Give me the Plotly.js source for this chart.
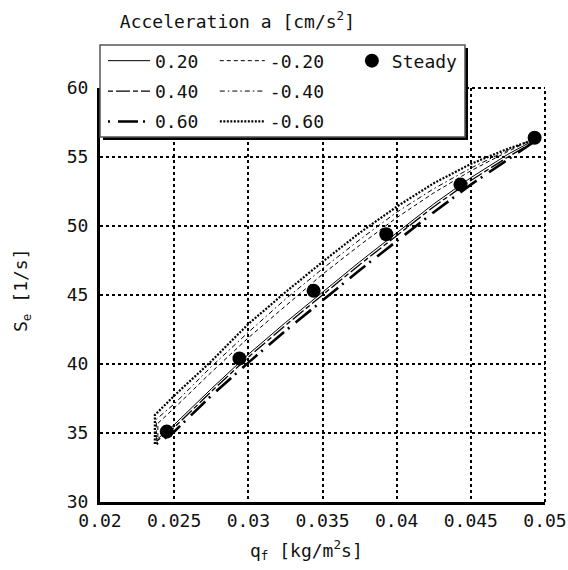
<!DOCTYPE html>
<html>
<head>
<meta charset="utf-8">
<script src="https://cdn.plot.ly/plotly-3.0.1.min.js"></script>
<style>html,body{margin:0;padding:0;background:#fff;}#chart{width:568px;height:570px;}</style>
</head>
<body>
<div id="chart"></div>
<script>
// ---- data ----
const qfPos   = [0.0238, 0.025, 0.0275, 0.03, 0.0325, 0.035, 0.0375, 0.04, 0.0425, 0.045, 0.0475, 0.0494];
const seP020  = [34.5, 35.6, 38.2, 40.7, 43.0, 45.2, 47.4, 49.5, 51.6, 53.5, 55.2, 56.3];
const seP040  = [34.4, 35.4, 38.0, 40.5, 42.8, 45.0, 47.2, 49.3, 51.4, 53.3, 55.0, 56.2];
const seP060  = [34.2, 35.1, 37.7, 40.1, 42.4, 44.6, 46.8, 48.9, 51.0, 53.0, 54.8, 56.2];

const qfM020  = [0.0239, 0.0239, 0.025, 0.0275, 0.03, 0.0325, 0.035, 0.0375, 0.04, 0.0425, 0.045, 0.0475, 0.0494];
const seM020  = [34.7, 35.7, 36.8, 39.4, 41.9, 44.2, 46.5, 48.6, 50.6, 52.4, 54.0, 55.4, 56.4];
const qfM040  = [0.0238, 0.0238, 0.025, 0.0275, 0.03, 0.0325, 0.035, 0.0375, 0.04, 0.0425, 0.045, 0.0475, 0.0494];
const seM040  = [34.5, 36.0, 37.1, 39.8, 42.3, 44.7, 46.9, 49.0, 51.0, 52.7, 54.2, 55.5, 56.4];
const qfM060  = [0.0237, 0.0237, 0.025, 0.0275, 0.03, 0.0325, 0.035, 0.0375, 0.04, 0.0425, 0.045, 0.0475, 0.0494];
const seM060  = [34.2, 36.3, 37.7, 40.2, 42.9, 45.2, 47.4, 49.5, 51.4, 53.1, 54.5, 55.6, 56.3];

const qfSteady = [0.0245, 0.0294, 0.0344, 0.0393, 0.0443, 0.0493];
const seSteady = [35.1, 40.4, 45.3, 49.4, 53.0, 56.4];

const FONT = '"DejaVu Sans Mono", monospace';

const traces = [
  {x: qfPos, y: seP020, name: '0.20', legend: 'legend', legendgroup: 'a',
   mode: 'lines', line: {color: '#000', width: 1}},
  {x: qfPos, y: seP040, name: '0.40', legend: 'legend', legendgroup: 'b',
   mode: 'lines', line: {color: '#000', width: 1.3, dash: '5px,3px,14px,3px'}},
  {x: qfPos, y: seP060, name: '0.60', legend: 'legend', legendgroup: 'c',
   mode: 'lines', line: {color: '#000', width: 2.6, dash: '2px,8px,20px,5px'}},
  {x: qfM020, y: seM020, name: '-0.20', legend: 'legend2', legendgroup: 'd',
   mode: 'lines', line: {color: '#000', width: 1, dash: '4px,3px'}},
  {x: qfM040, y: seM040, name: '-0.40', legend: 'legend2', legendgroup: 'e',
   mode: 'lines', line: {color: '#000', width: 1, dash: '5px,3px,1.5px,3px'}},
  {x: qfM060, y: seM060, name: '-0.60', legend: 'legend2', legendgroup: 'f',
   mode: 'lines', line: {color: '#000', width: 2.2, dash: '2px,1.5px'}},
  {x: qfSteady, y: seSteady, name: 'Steady', legend: 'legend3', legendgroup: 'g',
   mode: 'markers', marker: {color: '#000', size: 14, symbol: 'circle'}}
];

const legendBase = {
  font: {family: FONT, size: 18, color: '#111'},
  bgcolor: 'rgba(0,0,0,0)', borderwidth: 0,
  xanchor: 'left', yanchor: 'top', tracegroupgap: 4,
  itemclick: false, itemdoubleclick: false
};

const layout = {
  width: 568, height: 570,
  margin: {l: 100, r: 23, t: 88, b: 68},
  paper_bgcolor: '#fff', plot_bgcolor: '#fff',
  font: {family: FONT, size: 18, color: '#111'},
  title: {text: 'Acceleration a [cm/s<sup>2</sup>]', font: {family: FONT, size: 18, color: '#111'},
          xref: 'container', yref: 'container', x: 0.211, xanchor: 'left', y: 0.962, yanchor: 'middle'},
  xaxis: {range: [0.02, 0.05], dtick: 0.005, tick0: 0.02, showgrid: true,
          gridcolor: '#000', gridwidth: 2, griddash: 'dot',
          showline: true, linecolor: '#000', linewidth: 3, mirror: false,
          ticks: '', zeroline: false, tickfont: {family: FONT, size: 18, color: '#111'}},
  yaxis: {range: [30, 60], dtick: 5, tick0: 30, showgrid: true,
          gridcolor: '#000', gridwidth: 2, griddash: 'dot',
          showline: true, linecolor: '#000', linewidth: 3, mirror: false,
          ticks: '', ticklabelstandoff: 5, zeroline: false, tickfont: {family: FONT, size: 18, color: '#111'}},
  showlegend: true,
  legend:  Object.assign({}, legendBase, {x: 0.0067, y: 1.11, itemwidth: 42}),
  legend2: Object.assign({}, legendBase, {x: 0.258, y: 1.11, itemwidth: 45}),
  legend3: Object.assign({}, legendBase, {x: 0.566, y: 1.11}),
  shapes: [
    {type: 'line', xref: 'paper', yref: 'paper', x0: 0, x1: 1, y0: 1, y1: 1, layer: 'above',
     line: {color: '#000', width: 2, dash: 'dot'}},
    {type: 'line', xref: 'paper', yref: 'paper', x0: 1, x1: 1, y0: 0, y1: 1, layer: 'above',
     line: {color: '#000', width: 2, dash: 'dot'}},
    {type: 'rect', xref: 'paper', yref: 'paper', x0: 0.0067, x1: 0.827, y0: 0.8744, y1: 1.0966,
     layer: 'above', fillcolor: '#000', line: {width: 0}},
    {type: 'rect', xref: 'paper', yref: 'paper', x0: 0.0, x1: 0.8202, y0: 0.8816, y1: 1.1039,
     layer: 'above', fillcolor: '#fff', line: {color: '#555', width: 1.5}}
  ],
  annotations: [
    {text: 'q<sub>f</sub> [kg/m<sup>2</sup>s]', xref: 'paper', yref: 'paper', x: 0.465, y: -0.116,
     xanchor: 'center', yanchor: 'middle', showarrow: false, font: {family: FONT, size: 18, color: '#111'}},
    {text: 'S<sub>e</sub> [1/s]', xref: 'paper', yref: 'paper', x: -0.175, y: 0.51, textangle: -90,
     xanchor: 'center', yanchor: 'middle', showarrow: false, font: {family: FONT, size: 18, color: '#111'}}
  ]
};

Plotly.newPlot('chart', traces, layout, {displayModeBar: false, staticPlot: true});
</script>
</body>
</html>
